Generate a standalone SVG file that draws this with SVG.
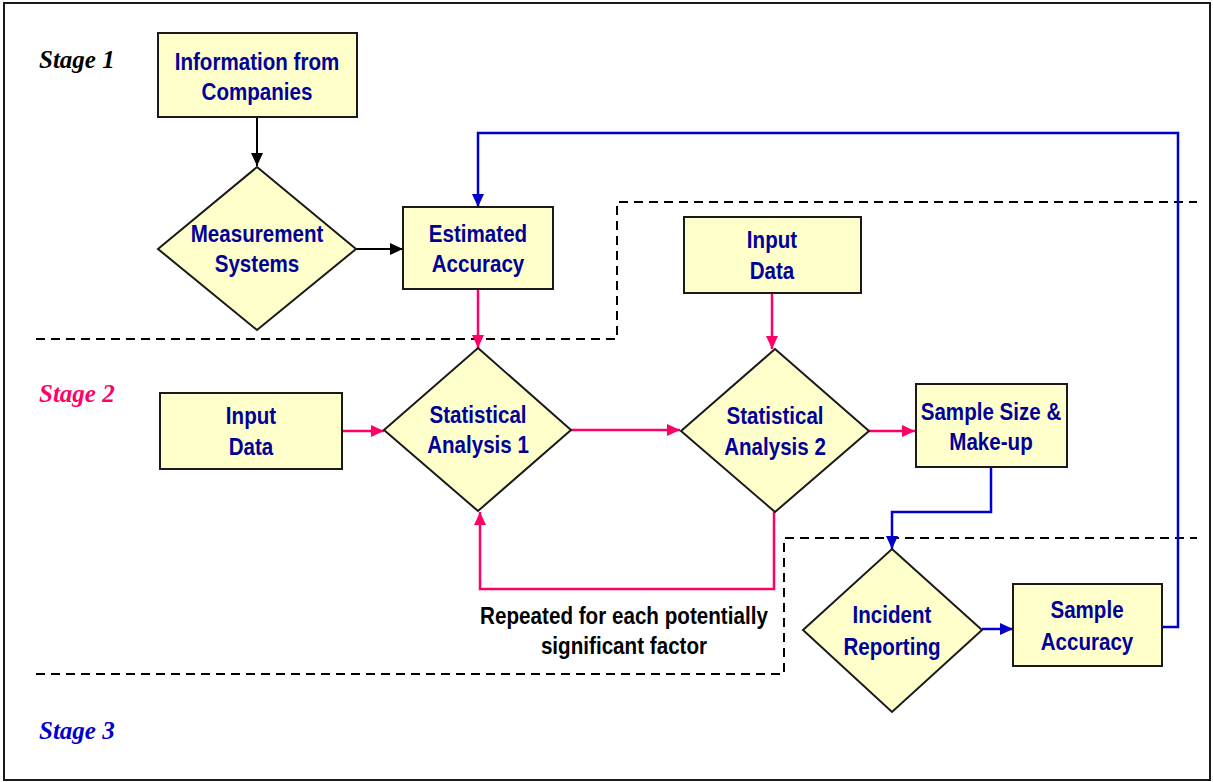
<svg xmlns="http://www.w3.org/2000/svg" width="1213" height="782" viewBox="0 0 1213 782">
<style>
.box{fill:#FFFFCC;stroke:#1a1a1a;stroke-width:2}
.t{font-family:"Liberation Sans",Arial,sans-serif;font-weight:bold;font-size:24.5px;fill:#000099;text-anchor:middle}
.note{font-family:"Liberation Sans",Arial,sans-serif;font-weight:bold;font-size:24px;fill:#000;text-anchor:middle}
.stage{font-family:"Liberation Serif","Times New Roman",serif;font-weight:bold;font-style:italic;font-size:25px}
.dash{fill:none;stroke:#000;stroke-width:2;stroke-dasharray:9,6}
.k{fill:none;stroke:#000;stroke-width:2}
.p{fill:none;stroke:#FF0066;stroke-width:2.5}
.b{fill:none;stroke:#0000CC;stroke-width:2.5}
</style>
<defs>
<marker id="ak" markerUnits="userSpaceOnUse" markerWidth="14" markerHeight="14" refX="13" refY="7" orient="auto"><path d="M0,1 L13,7 L0,13 z" fill="#000"/></marker>
<marker id="ap" markerUnits="userSpaceOnUse" markerWidth="14" markerHeight="14" refX="13" refY="7" orient="auto"><path d="M0,1 L13,7 L0,13 z" fill="#FF0066"/></marker>
<marker id="ab" markerUnits="userSpaceOnUse" markerWidth="14" markerHeight="14" refX="13" refY="7" orient="auto"><path d="M0,1 L13,7 L0,13 z" fill="#0000CC"/></marker>
</defs>
<rect x="4" y="3" width="1206" height="777" fill="#fff" stroke="#1a1a1a" stroke-width="2"/>
<g id="stages">
<text class="stage" x="39" y="68" fill="#000">Stage 1</text>
<text class="stage" x="39" y="402" fill="#FF0066">Stage 2</text>
<text class="stage" x="39" y="739" fill="#0000CC">Stage 3</text>
</g>
<g id="dividers">
<path class="dash" d="M36,339 H617 V202 H1197"/>
<path class="dash" d="M36,674 H784 V538 H1197"/>
</g>
<g id="connectors">
<path class="k" d="M257,117 V166" marker-end="url(#ak)"/>
<path class="k" d="M356,249 H403" marker-end="url(#ak)"/>
<path class="p" d="M478,289 V348" marker-end="url(#ap)"/>
<path class="p" d="M772,293 V349" marker-end="url(#ap)"/>
<path class="p" d="M342,431 H384" marker-end="url(#ap)"/>
<path class="p" d="M571,430 H680" marker-end="url(#ap)"/>
<path class="p" d="M869,431 H915" marker-end="url(#ap)"/>
<path class="p" d="M774,512 V589 H480 V512" marker-end="url(#ap)"/>
<path class="b" d="M991,467 V512 H892 V549" marker-end="url(#ab)"/>
<path class="b" d="M982,629 H1013" marker-end="url(#ab)"/>
<path class="b" d="M1162,627 H1178 V133 H478 V207" marker-end="url(#ab)"/>
</g>
<g id="info">
<rect class="box" x="158" y="33" width="199" height="84"/>
<text class="t" transform="translate(257,0) scale(0.84,1)" y="70">Information from</text>
<text class="t" transform="translate(257,0) scale(0.84,1)" y="100">Companies</text>
</g>
<g id="measurement">
<polygon class="box" points="257,167 356,249 257,330 158,249"/>
<text class="t" transform="translate(257,0) scale(0.84,1)" y="242">Measurement</text>
<text class="t" transform="translate(257,0) scale(0.84,1)" y="272">Systems</text>
</g>
<g id="estimated">
<rect class="box" x="403" y="207" width="150" height="82"/>
<text class="t" transform="translate(478,0) scale(0.84,1)" y="242">Estimated</text>
<text class="t" transform="translate(478,0) scale(0.84,1)" y="272">Accuracy</text>
</g>
<g id="input2">
<rect class="box" x="684" y="217" width="177" height="76"/>
<text class="t" transform="translate(772,0) scale(0.84,1)" y="248">Input</text>
<text class="t" transform="translate(772,0) scale(0.84,1)" y="279">Data</text>
</g>
<g id="input1">
<rect class="box" x="160" y="393" width="182" height="76"/>
<text class="t" transform="translate(251,0) scale(0.84,1)" y="424">Input</text>
<text class="t" transform="translate(251,0) scale(0.84,1)" y="455">Data</text>
</g>
<g id="sa1">
<polygon class="box" points="478,348 571,430 478,511 384,430"/>
<text class="t" transform="translate(478,0) scale(0.84,1)" y="423">Statistical</text>
<text class="t" transform="translate(478,0) scale(0.84,1)" y="453">Analysis 1</text>
</g>
<g id="sa2">
<polygon class="box" points="775,349 869,431 775,512 681,431"/>
<text class="t" transform="translate(775,0) scale(0.84,1)" y="424">Statistical</text>
<text class="t" transform="translate(775,0) scale(0.84,1)" y="455">Analysis 2</text>
</g>
<g id="samplesize">
<rect class="box" x="916" y="384" width="151" height="83"/>
<text class="t" transform="translate(991,0) scale(0.84,1)" y="420">Sample Size &amp;</text>
<text class="t" transform="translate(991,0) scale(0.84,1)" y="450">Make-up</text>
</g>
<g id="incident">
<polygon class="box" points="892,549 982,630 892,712 803,630"/>
<text class="t" transform="translate(892,0) scale(0.84,1)" y="623">Incident</text>
<text class="t" transform="translate(892,0) scale(0.84,1)" y="655">Reporting</text>
</g>
<g id="sampleacc">
<rect class="box" x="1013" y="584" width="149" height="82"/>
<text class="t" transform="translate(1087,0) scale(0.84,1)" y="618">Sample</text>
<text class="t" transform="translate(1087,0) scale(0.84,1)" y="650">Accuracy</text>
</g>
<g id="note">
<text class="note" transform="translate(624,0) scale(0.86,1)" y="624">Repeated for each potentially</text>
<text class="note" transform="translate(624,0) scale(0.86,1)" y="654">significant factor</text>
</g>
</svg>
